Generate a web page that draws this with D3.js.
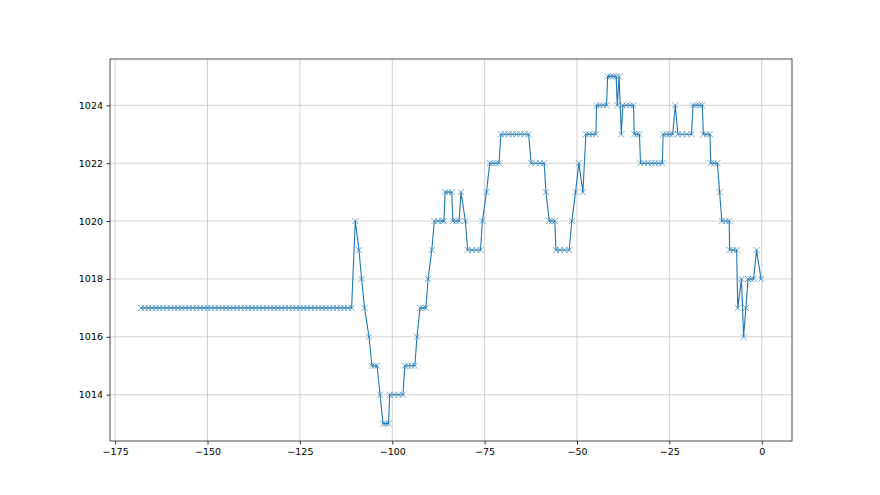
<!DOCTYPE html>
<html>
<head>
<meta charset="utf-8">
<script src="https://cdn.jsdelivr.net/npm/d3@7"></script>
<style>
  body { margin: 0; background: #fff; }
  text { font-family: "DejaVu Sans", sans-serif; }
</style>
</head>
<body>
<script>
// sizes of the figure
var width = 880;
var height = 495;
var margin = {left: 110, right: 88, top: 59, bottom: 54};

// hours before now
var hours = [
  -168,-167,-166,-165,-164,-163,-162,-161,-160,-159,-158,-157,-156,-155,-154,-153,-152,-151,-150,-149,
  -148,-147,-146,-145,-144,-143,-142,-141,-140,-139,-138,-137,-136,-135,-134,-133,-132,-131,-130,-129,
  -128,-127,-126,-125,-124,-123,-122,-121,-120,-119,-118,-117,-116,-115,-114,-113,-112,-111,
  -110,-109,-108.3,-107.5,-106.3,
  -105.5,-104.8,-104.1,
  -103.3,
  -102.5,-101.8,-101,
  -100.7,-99.5,-98.3,-97.1,
  -96.6,-95.7,-94.8,-93.9,
  -93.3,
  -92.5,-91.7,-90.9,
  -90.3,
  -89.3,
  -88.6,-87.6,-86.6,-86.0,
  -85.7,-84.8,-83.9,
  -83.6,-82.7,-81.9,
  -81.4,
  -80.2,
  -79.6,-78.4,-77.2,-76.1,
  -75.6,
  -74.5,
  -73.6,-72.8,-71.9,-71.1,
  -70.6,-69.6,-68.5,-67.5,-66.4,-65.3,-64.2,-63.1,
  -62.4,-61.2,-60.0,-58.9,
  -58.4,
  -57.5,-56.8,-56.0,
  -55.7,-54.6,-53.4,-52.1,
  -51.4,
  -50.4,
  -49.5,
  -48.4,
  -47.6,-46.7,-45.8,-44.9,
  -44.7,-43.8,-42.9,-42.0,
  -41.7,-40.9,-40.2,-39.4,
  -39.1,
  -38.6,
  -38.0,
  -37.6,-36.6,-35.6,-34.7,
  -34.5,-33.8,-33.1,
  -32.8,-31.8,-30.8,-29.8,-28.9,-27.9,-26.9,
  -26.7,-25.8,-24.9,-24.1,
  -23.4,
  -22.7,-21.5,-20.2,-19.0,
  -18.6,-17.8,-16.9,-16.1,
  -15.8,-14.9,-14.0,
  -13.8,-12.9,-12.0,
  -11.4,
  -10.8,-9.8,-8.8,
  -8.7,-7.7,-6.8,
  -6.5,
  -5.5,
  -4.9,
  -4.3,
  -3.7,-2.9,-2.2,
  -1.4,
  -0.2
];

// pressure values, same order as hours
var pressure = [
  1017,1017,1017,1017,1017,1017,1017,1017,1017,1017,1017,1017,1017,1017,1017,1017,1017,1017,1017,1017,
  1017,1017,1017,1017,1017,1017,1017,1017,1017,1017,1017,1017,1017,1017,1017,1017,1017,1017,1017,1017,
  1017,1017,1017,1017,1017,1017,1017,1017,1017,1017,1017,1017,1017,1017,1017,1017,1017,1017,
  1020,1019,1018,1017,1016,
  1015,1015,1015,
  1014,
  1013,1013,1013,
  1014,1014,1014,1014,
  1015,1015,1015,1015,
  1016,
  1017,1017,1017,
  1018,
  1019,
  1020,1020,1020,1020,
  1021,1021,1021,
  1020,1020,1020,
  1021,
  1020,
  1019,1019,1019,1019,
  1020,
  1021,
  1022,1022,1022,1022,
  1023,1023,1023,1023,1023,1023,1023,1023,
  1022,1022,1022,1022,
  1021,
  1020,1020,1020,
  1019,1019,1019,1019,
  1020,
  1021,
  1022,
  1021,
  1023,1023,1023,1023,
  1024,1024,1024,1024,
  1025,1025,1025,1025,
  1024,
  1025,
  1023,
  1024,1024,1024,1024,
  1023,1023,1023,
  1022,1022,1022,1022,1022,1022,1022,
  1023,1023,1023,1023,
  1024,
  1023,1023,1023,1023,
  1024,1024,1024,1024,
  1023,1023,1023,
  1022,1022,1022,
  1021,
  1020,1020,1020,
  1019,1019,1019,
  1017,
  1018,
  1016,
  1017,
  1018,1018,1018,
  1019,
  1018
];

var xTicks = [-175, -150, -125, -100, -75, -50, -25, 0];
var yTicks = [1014, 1016, 1018, 1020, 1022, 1024];

var data = hours.map(function (h, i) { return {x: h, y: pressure[i]}; });

var svg = d3.select("body")
  .append("svg")
  .attr("width", width)
  .attr("height", height);

svg.append("rect")
  .attr("width", width)
  .attr("height", height)
  .attr("fill", "#fff");

var plotW = width - margin.left - margin.right;
var plotH = height - margin.top - margin.bottom;

// matplotlib style 5% padding around the data
var xMin = d3.min(hours), xMax = d3.max(hours);
var yMin = d3.min(pressure), yMax = d3.max(pressure);
var xPad = (xMax - xMin) * 0.05, yPad = (yMax - yMin) * 0.05;

var x = d3.scaleLinear()
  .domain([xMin - xPad, xMax + xPad])
  .range([0, plotW]);

var y = d3.scaleLinear()
  .domain([yMin - yPad, yMax + yPad])
  .range([plotH, 0]);

var g = svg.append("g")
  .attr("transform", "translate(" + margin.left + "," + margin.top + ")");

// grid
g.selectAll("line.vgrid")
  .data(xTicks)
  .enter()
  .append("line")
  .attr("class", "vgrid")
  .attr("x1", function (d) { return x(d); })
  .attr("x2", function (d) { return x(d); })
  .attr("y1", 0)
  .attr("y2", plotH)
  .attr("stroke", "#c4c4c4")
  .attr("stroke-width", 0.8);

g.selectAll("line.hgrid")
  .data(yTicks)
  .enter()
  .append("line")
  .attr("class", "hgrid")
  .attr("x1", 0)
  .attr("x2", plotW)
  .attr("y1", function (d) { return y(d); })
  .attr("y2", function (d) { return y(d); })
  .attr("stroke", "#c4c4c4")
  .attr("stroke-width", 0.8);

// line
var line = d3.line()
  .x(function (d) { return x(d.x); })
  .y(function (d) { return y(d.y); });

g.append("path")
  .datum(data)
  .attr("d", line)
  .attr("fill", "none")
  .attr("stroke", "#1f77b4")
  .attr("stroke-width", 1.1)
  .attr("stroke-linejoin", "round");

// 'x' markers
var m = 3;
g.selectAll("path.marker")
  .data(data)
  .enter()
  .append("path")
  .attr("class", "marker")
  .attr("d", function (d) {
    var cx = x(d.x), cy = y(d.y);
    return "M" + (cx - m) + "," + (cy - m) + "L" + (cx + m) + "," + (cy + m) +
           "M" + (cx - m) + "," + (cy + m) + "L" + (cx + m) + "," + (cy - m);
  })
  .attr("fill", "none")
  .attr("stroke", "#1f77b4")
  .attr("stroke-opacity", 0.8)
  .attr("stroke-width", 0.8);

// axes
function minus(d) { return String(d).replace("-", "\u2212"); }

var xAxis = g.append("g")
  .attr("transform", "translate(0," + plotH + ")")
  .call(d3.axisBottom(x).tickValues(xTicks).tickFormat(minus).tickSizeInner(3.5).tickSizeOuter(0).tickPadding(3.5));

var yAxis = g.append("g")
  .call(d3.axisLeft(y).tickValues(yTicks).tickFormat(d3.format("d")).tickSizeInner(3.5).tickSizeOuter(0).tickPadding(3.5));

[xAxis, yAxis].forEach(function (a) {
  a.select(".domain").remove();
  a.selectAll(".tick line").attr("stroke", "#000").attr("stroke-width", 0.8);
  a.selectAll(".tick text")
    .attr("fill", "#000")
    .style("font-size", "9.5px")
    .style("font-family", "'DejaVu Sans', sans-serif");
});

// frame
g.append("rect")
  .attr("width", plotW)
  .attr("height", plotH)
  .attr("fill", "none")
  .attr("stroke", "#222")
  .attr("stroke-width", 0.8);
</script>
</body>
</html>
